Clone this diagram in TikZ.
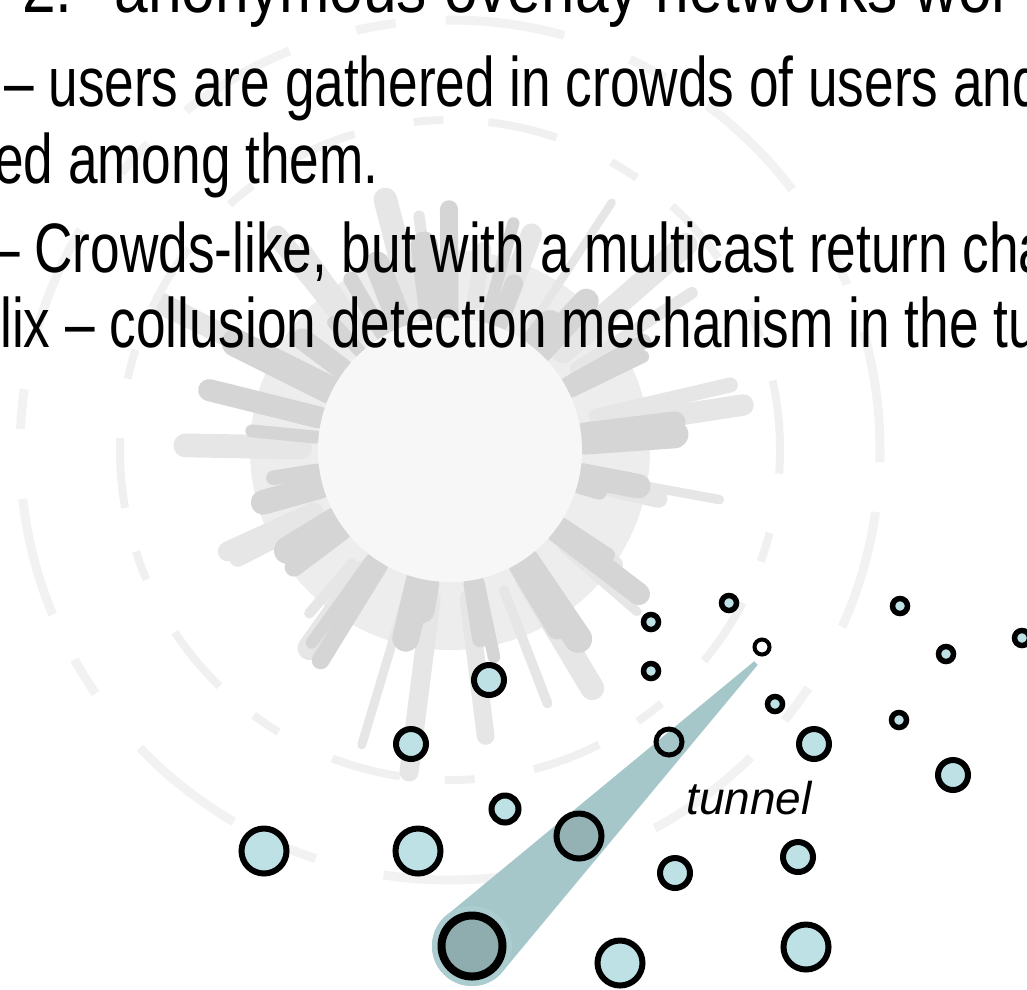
\documentclass[tikz,border=0pt]{standalone}
\usepackage{fontspec}
\setmainfont{Liberation Sans}
\newfontfamily\narrowfont{Liberation Sans}[FakeStretch=0.76]
\newfontfamily\headfont{Liberation Sans}[FakeStretch=0.84]
\usepackage{xcolor}
\usetikzlibrary{calc}
\definecolor{peerblue}{HTML}{BDE1E4}
\definecolor{tubeteal}{HTML}{A5C7C9}
\definecolor{tuberim}{HTML}{ABCDCF}
\definecolor{tubeinner}{HTML}{8FADAE}
\definecolor{sungray}{HTML}{D5D5D5}
\definecolor{sunpale}{HTML}{E6E6E6}
\definecolor{sundisk}{HTML}{F7F7F7}

\begin{document}
\begin{tikzpicture}[x=1pt, y=-1pt,
  every node/.style={inner sep=0pt},
  slidetext/.style={anchor=base west, font=\narrowfont\fontsize{70}{80}\selectfont},
  titletext/.style={anchor=base west, font=\headfont\fontsize{72}{84}\selectfont},
  peer/.style={circle, draw, line width=6pt, fill=peerblue},
  bigpeer/.style={peer, minimum size=45pt},
  midpeer/.style={peer, minimum size=30pt},
  smallpeer/.style={peer, line width=5.5pt, minimum size=15pt},
  ray/.style={draw=sungray, line cap=round},
  paleray/.style={draw=sunpale, line cap=round},
  tube/.style={fill=tubeteal}
]
\useasboundingbox (0,0) rectangle (1027,989);
\clip (0,0) rectangle (1027,989);

% Background sun
\coordinate (sun) at (450,450);
\fill[sunpale!70!white] (sun) circle (200pt);
\foreach \a in {4,17,...,360}{
  \pgfmathsetmacro\len{265+45*sin(3*\a)+25*cos(7*\a)}
  \pgfmathsetmacro\wid{16+8*sin(11*\a)}
  \pgfmathsetmacro\b{\a+6*sin(13*\a)}
  \draw[paleray, line width=\wid pt] ($(sun)+(\b:150pt)$) -- ($(sun)+(\b:\len pt)$);
}
\foreach \a in {0,11,...,355}{
  \pgfmathsetmacro\len{205+30*sin(5*\a)+20*cos(9*\a)}
  \pgfmathsetmacro\wid{20+8*cos(7*\a)}
  \pgfmathsetmacro\b{\a+4*cos(17*\a)}
  \draw[ray, line width=\wid pt] ($(sun)+(\b:135pt)$) -- ($(sun)+(\b:\len pt)$);
}
\draw[draw=sunpale!60!white, line width=8pt, dash pattern=on 70pt off 45pt on 30pt off 60pt] (sun) circle (330pt);
\draw[draw=sunpale!50!white, line width=9pt, dash pattern=on 120pt off 50pt on 40pt off 70pt] (sun) circle (430pt);
\fill[sundisk] (sun) circle (132pt);

% Text
\node[titletext] (title) at (22,12) {2.\hspace{42pt}anonymous overlay networks wor};
\node[slidetext] (crowds) at (4,106) {– users are gathered in crowds of users and};
\node[slidetext] (crowds2) at (-6,183) {ed among them.};
\node[slidetext] (hordes) at (-10,272) {– Crowds-like, but with a multicast return cha};
\node[slidetext] (tarzan) at (0,347) {lix – collusion detection mechanism in the tu};

% Tunnel
\coordinate (mouth) at (472,946);
\coordinate (tip) at (756,663);
\fill[tube] ($(mouth)+(135:40pt)$) -- ($(tip)+(135:2.5pt)$) -- ($(tip)+(-45:2.5pt)$)
  -- ($(mouth)+(-45:40pt)$) arc[start angle=-45, end angle=-225, radius=40pt] -- cycle;
\fill[tuberim] (mouth) circle (40pt);
\node[circle, draw, line width=8pt, minimum size=61pt, fill=tubeinner] (entry) at (472,946) {};
\node[font=\itshape\fontsize{46}{50}\selectfont] (label) at (749,798) {tunnel};

% Users
\node[midpeer] (u1) at (489,680) {};
\node[midpeer] (u2) at (411,744) {};
\node[midpeer, minimum size=27pt] (u3) at (505,809) {};
\node[bigpeer] (u4) at (264,851) {};
\node[bigpeer] (u5) at (418,851) {};
\node[bigpeer, fill=tubeinner!90!peerblue] (u6) at (579,836) {};
\node[midpeer, fill=none, minimum size=26pt, line width=5pt] (u7) at (669,742) {};
\node[smallpeer, fill=white, line width=4pt, minimum size=15pt] (u8) at (762,647) {};
\node[smallpeer] (u9) at (651,622) {};
\node[smallpeer] (u10) at (729,603) {};
\node[smallpeer] (u11) at (651,671) {};
\node[smallpeer] (u12) at (775,704) {};
\node[midpeer] (u13) at (814,744) {};
\node[smallpeer] (u14) at (900,606) {};
\node[smallpeer] (u15) at (946,654) {};
\node[smallpeer] (u16) at (899,720) {};
\node[smallpeer] (u17) at (1022,638) {};
\node[midpeer] (u18) at (953,775) {};
\node[midpeer] (u19) at (798,857) {};
\node[midpeer] (u20) at (675,873) {};
\node[bigpeer] (u21) at (620,963) {};
\node[bigpeer] (u22) at (806,947) {};

\end{tikzpicture}
\end{document}
